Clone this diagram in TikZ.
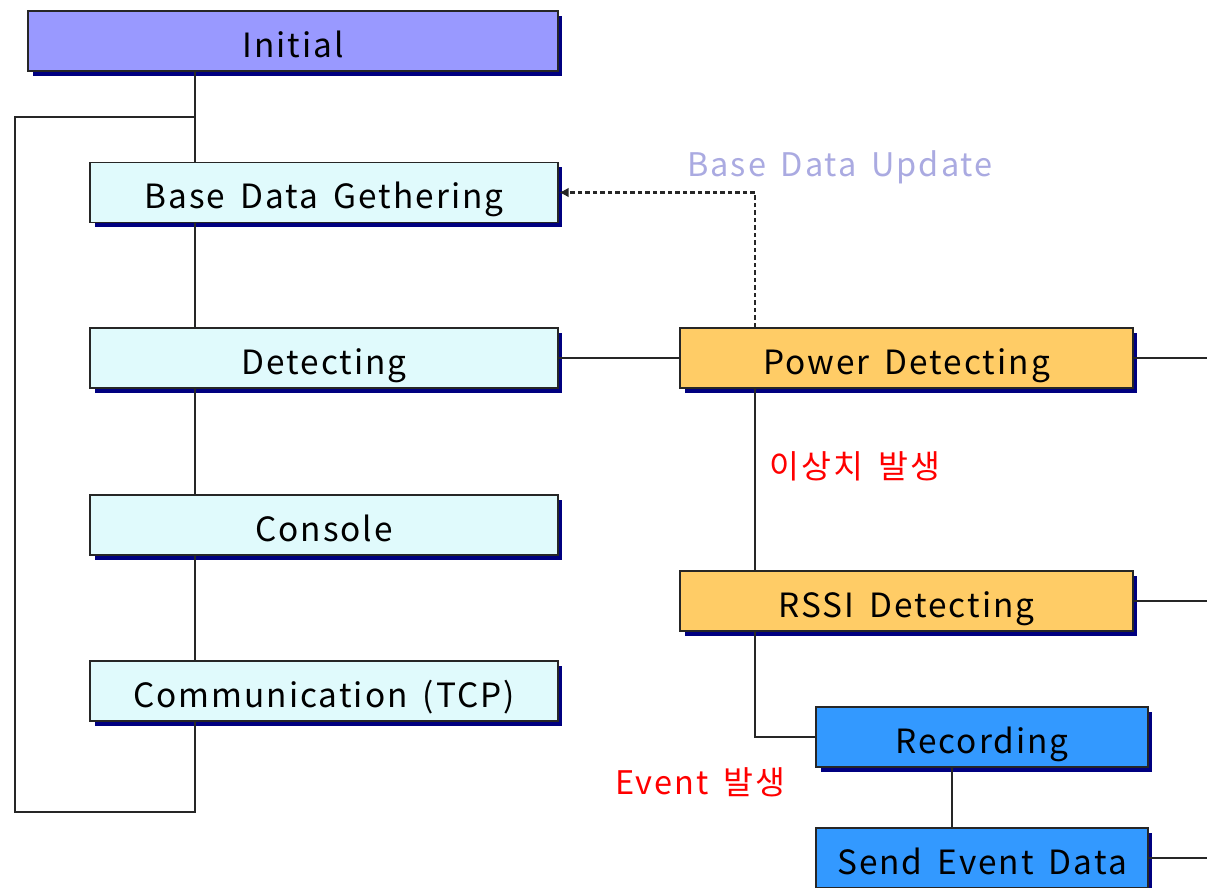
\documentclass[tikz,border=0pt]{standalone}
\usepackage{fontspec}
\setmainfont{Noto Sans CJK KR}[LetterSpace=6, WordSpace=1.6]
\usepackage{xcolor}
\definecolor{initblue}{RGB}{153, 153, 255}
\definecolor{lightcyan}{RGB}{224, 250, 252}
\definecolor{powerorange}{RGB}{255, 204, 102}
\definecolor{recblue}{RGB}{51, 153, 255}
\definecolor{navyshadow}{RGB}{0, 0, 128}
\definecolor{updatepurple}{RGB}{170, 170, 225}
\usetikzlibrary{arrows.meta, shadows}

\begin{document}
\begin{tikzpicture}[x=0.02cm, y=-0.02cm,
    state/.style={draw=black!85, line width=0.9pt, minimum height=1.2cm, inner sep=0pt,
        text height=0.7cm, text depth=0.06cm,
        font=\fontsize{19}{21}\selectfont,
        drop shadow={shadow xshift=0.09cm, shadow yshift=-0.09cm, fill=navyshadow, opacity=1}},
    link/.style={black!85, line width=1pt},
    note/.style={font=\fontsize{18.5}{21}\selectfont}]
        \useasboundingbox (0,0) rectangle (1207,887);

        % Draw the main states on the left
        \node[state, fill=initblue, minimum width=10.6cm] (init) at (293,41) {Initial};
        \node[state, fill=lightcyan, minimum width=9.36cm] (base) at (324,192.5) {Base Data Gethering};
        \node[state, fill=lightcyan, minimum width=9.36cm] (detect) at (324,358) {Detecting};
        \node[state, fill=lightcyan, minimum width=9.36cm] (console) at (324,525) {Console};
        \node[state, fill=lightcyan, minimum width=9.36cm] (comm) at (324,691) {Communication (TCP)};

        % Draw the detecting states on the right
        \node[state, fill=powerorange, minimum width=9.06cm] (power) at (906.5,358) {Power Detecting};
        \node[state, fill=powerorange, minimum width=9.06cm] (rssi) at (906.5,601) {RSSI Detecting};
        \node[state, fill=recblue, minimum width=6.64cm] (rec) at (982,737) {Recording};
        \node[state, fill=recblue, minimum width=6.64cm] (send) at (982,858) {Send Event Data};

        % Helper points for the connectors
        \coordinate (spine) at (195,117);
        \coordinate (loopcorner) at (15,812);
        \coordinate (branch) at (755,192);
        \coordinate (recx) at (952,0);
        \coordinate (powerout) at (1210,358);
        \coordinate (rssiout) at (1210,601);
        \coordinate (sendout) at (1210,858);

        % Draw the main line and the loop back
        \draw[link] (init.south -| spine) -- (base.north -| spine);
        \draw[link] (base.south -| spine) -- (detect.north -| spine);
        \draw[link] (detect.south -| spine) -- (console.north -| spine);
        \draw[link] (console.south -| spine) -- (comm.north -| spine);
        \draw[link] (spine) -| (loopcorner) -| (comm.south -| spine);

        % Draw the detecting branch
        \draw[link] (detect.east) -- (power.west);
        \draw[link] (power.east) -- (powerout);
        \draw[link] (rssi.east) -- (rssiout);
        \draw[link] (send.east) -- (sendout);
        \draw[link] (power.south -| branch) -- (rssi.north -| branch);
        \draw[link] (rssi.south -| branch) |- (rec.west);
        \draw[link] (rec.south -| recx) -- (send.north -| recx);

        % Draw the update arrow back to the base data
        \draw[link, line width=1.2pt, dash pattern=on 0.09cm off 0.06cm, -{Latex[length=0.2cm, width=0.2cm]}] (power.north -| branch) |- (base.east);

        % Labels
        \node[note, text=updatepurple] (update) at (840,167) {Base Data Update};
        \node[note, text=red] (abnormal) at (855,466) {이상치 발생};
        \node[note, text=red] (event) at (700,782) {Event 발생};
\end{tikzpicture}
\end{document}
